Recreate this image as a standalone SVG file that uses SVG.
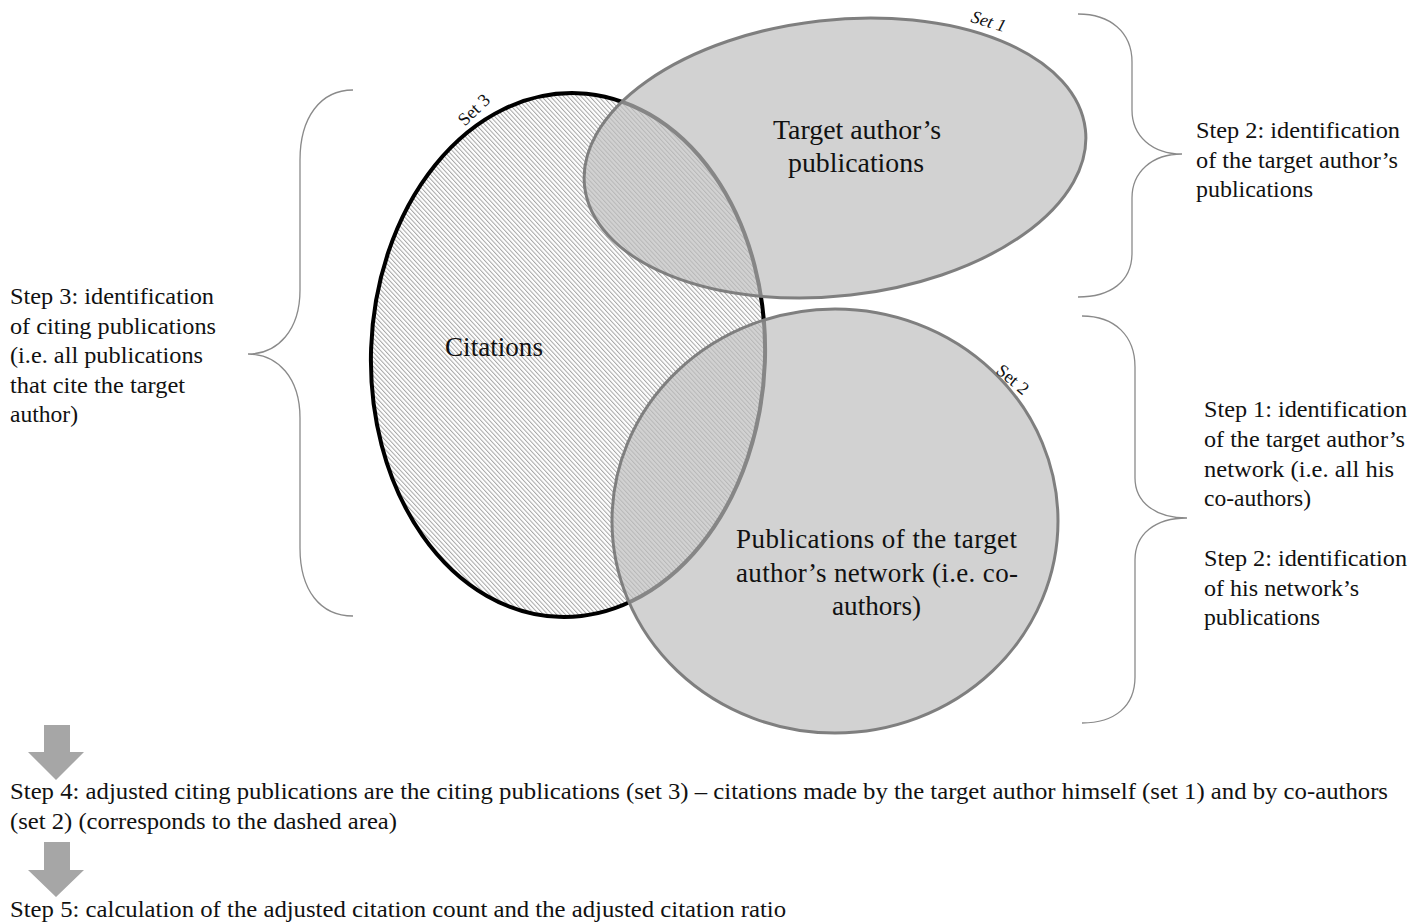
<svg xmlns="http://www.w3.org/2000/svg" width="1426" height="922" viewBox="0 0 1426 922">
<defs>
<pattern id="hatch" patternUnits="userSpaceOnUse" width="3.2" height="3.2" patternTransform="rotate(-45)">
<rect width="3.2" height="3.2" fill="#ffffff"/>
<rect x="0" y="0" width="1" height="3.2" fill="#a6a6a6"/>
</pattern>
</defs>
<style>
text{font-family:"Liberation Serif","Times New Roman",serif;fill:#111;}
.side{font-size:24px;}
.big{font-size:27px;}
.lbl{font-size:18px;}
.set{fill:#bfbfbf;fill-opacity:0.7;stroke:#7f7f7f;stroke-width:3;}
.brace{fill:none;stroke:#8a8a8a;stroke-width:1.3;}
.arrow{fill:#a6a6a6;}
</style>
<rect width="1426" height="922" fill="#ffffff"/>

<g id="set3">
<ellipse cx="568" cy="355" rx="197" ry="262" transform="rotate(2 568 355)" fill="url(#hatch)" stroke="#000" stroke-width="4"/>
<text class="lbl" text-anchor="middle" transform="translate(478,114) rotate(-44)">Set 3</text>
<text class="big" x="445" y="356" textLength="98" lengthAdjust="spacingAndGlyphs">Citations</text>
</g>

<g id="set1">
<ellipse class="set" cx="835" cy="158" rx="252" ry="138" transform="rotate(-6.5 835 158)"/>
<text class="lbl" font-style="italic" text-anchor="middle" transform="translate(987,27) rotate(17)">Set 1</text>
<text class="big" x="773" y="139" textLength="168" lengthAdjust="spacingAndGlyphs">Target author’s</text>
<text class="big" x="788" y="172" textLength="136" lengthAdjust="spacingAndGlyphs">publications</text>
</g>

<g id="set2">
<ellipse class="set" cx="835" cy="521" rx="223" ry="212"/>
<text class="lbl" text-anchor="middle" transform="translate(1009,384) rotate(40)">Set 2</text>
<text class="big" x="736" y="548" textLength="281" lengthAdjust="spacing">Publications of the target</text>
<text class="big" x="736" y="582" textLength="282" lengthAdjust="spacing">author’s network (i.e. co-</text>
<text class="big" x="832" y="615" textLength="89" lengthAdjust="spacingAndGlyphs">authors)</text>
</g>

<g id="connectors">
<path class="brace" d="M353,90 C320,90 300,118 300,160 L300,290 C300,330 278,354 248,354 C278,354 300,378 300,418 L300,548 C300,590 320,616 353,616"/>
<path class="brace" d="M1078,14 C1110,14 1132,32 1132,62 L1132,110 C1132,136 1152,154 1182,154 C1152,154 1132,172 1132,198 L1132,253 C1132,282 1110,297 1078,297"/>
<path class="brace" d="M1082,316 C1115,316 1135,336 1135,367 L1135,478 C1135,502 1155,518 1187,518 C1155,518 1135,534 1135,560 L1135,677 C1135,706 1115,723 1082,723"/>
<polygon class="arrow" points="44,725 70,725 70,752 84,752 56,780 28,752 44,752"/>
<polygon class="arrow" points="44,842 70,842 70,870 84,870 56,897 28,870 44,870"/>
</g>

<g id="step3">
<text class="side" x="10" y="304" textLength="204" lengthAdjust="spacingAndGlyphs">Step 3: identification</text>
<text class="side" x="10" y="334" textLength="206" lengthAdjust="spacingAndGlyphs">of citing publications</text>
<text class="side" x="10" y="363" textLength="193" lengthAdjust="spacingAndGlyphs">(i.e. all publications</text>
<text class="side" x="10" y="393" textLength="175" lengthAdjust="spacingAndGlyphs">that cite the target</text>
<text class="side" x="10" y="422" textLength="68" lengthAdjust="spacingAndGlyphs">author)</text>
</g>

<g id="step2a">
<text class="side" x="1196" y="138" textLength="204" lengthAdjust="spacingAndGlyphs">Step 2: identification</text>
<text class="side" x="1196" y="168" textLength="202" lengthAdjust="spacingAndGlyphs">of the target author’s</text>
<text class="side" x="1196" y="197" textLength="117" lengthAdjust="spacingAndGlyphs">publications</text>
</g>

<g id="step1">
<text class="side" x="1204" y="417" textLength="203" lengthAdjust="spacingAndGlyphs">Step 1: identification</text>
<text class="side" x="1204" y="447" textLength="201" lengthAdjust="spacingAndGlyphs">of the target author’s</text>
<text class="side" x="1204" y="477" textLength="190" lengthAdjust="spacingAndGlyphs">network (i.e. all his</text>
<text class="side" x="1204" y="506" textLength="107" lengthAdjust="spacingAndGlyphs">co-authors)</text>
</g>

<g id="step2b">
<text class="side" x="1204" y="566" textLength="203" lengthAdjust="spacingAndGlyphs">Step 2: identification</text>
<text class="side" x="1204" y="596" textLength="155" lengthAdjust="spacingAndGlyphs">of his network’s</text>
<text class="side" x="1204" y="625" textLength="116" lengthAdjust="spacingAndGlyphs">publications</text>
</g>

<g id="step4">
<text class="side" x="10" y="799" textLength="1378" lengthAdjust="spacingAndGlyphs">Step 4: adjusted citing publications are the citing publications (set 3) – citations made by the target author himself (set 1) and by co-authors</text>
<text class="side" x="10" y="829" textLength="387" lengthAdjust="spacingAndGlyphs">(set 2) (corresponds to the dashed area)</text>
</g>

<g id="step5">
<text class="side" x="10" y="917" textLength="776" lengthAdjust="spacingAndGlyphs">Step 5: calculation of the adjusted citation count and the adjusted citation ratio</text>
</g>
</svg>
